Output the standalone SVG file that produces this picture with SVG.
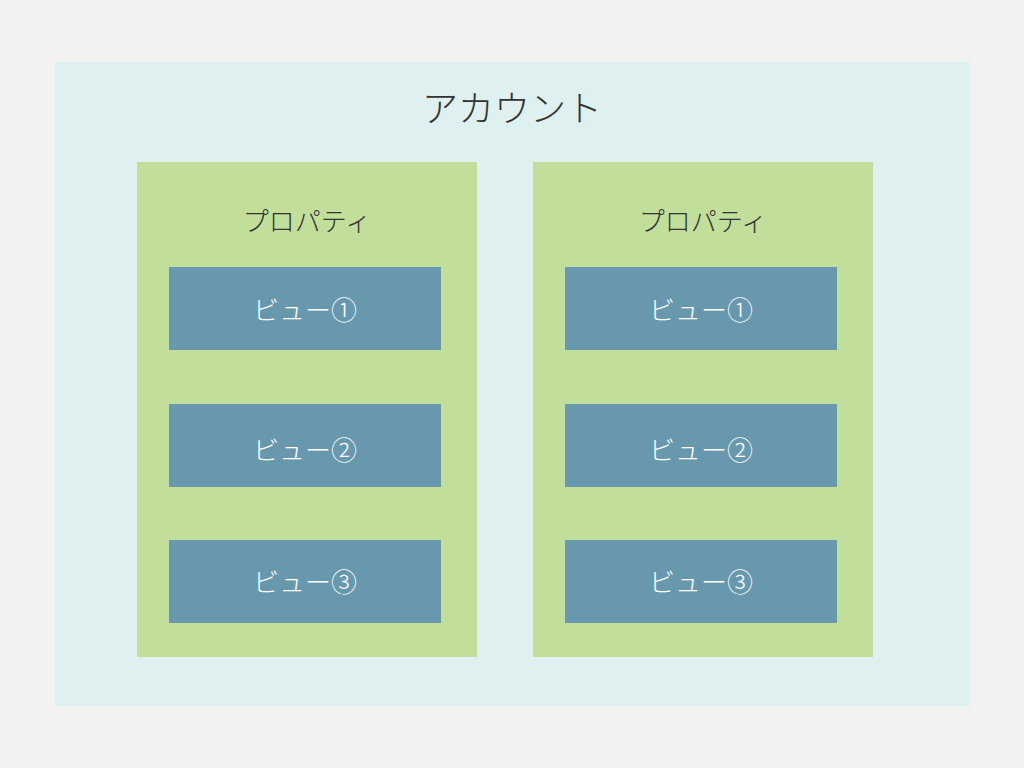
<svg xmlns="http://www.w3.org/2000/svg" width="1024" height="768" viewBox="0 0 1024 768">
<style>
text{font-family:"Noto Sans CJK JP","Noto Sans",sans-serif;text-anchor:middle;dominant-baseline:central;font-weight:300}
.acc{fill:#dff0f0}.prop{fill:#c2de9b}.view{fill:#6898ae}
.t1{font-size:36px;fill:#333}.t2{font-size:26px;fill:#333}.t3{font-size:26px;fill:#fff}
</style>
<rect width="1024" height="768" fill="#f2f2f2"/>
<g id="account"><rect class="acc" x="55" y="62" width="915" height="644"/><text class="t1" x="512" y="106">アカウント</text></g>
<g id="prop1"><rect class="prop" x="137" y="162" width="340" height="495"/><text class="t2" x="307" y="219">プロパティ</text></g>
<g id="prop2"><rect class="prop" x="533" y="162" width="340" height="495"/><text class="t2" x="703" y="219">プロパティ</text></g>
<g id="p1v1"><rect class="view" x="169" y="267" width="272" height="83"/><text class="t3" x="305" y="308">ビュー①</text></g>
<g id="p1v2"><rect class="view" x="169" y="404" width="272" height="83"/><text class="t3" x="305" y="448">ビュー②</text></g>
<g id="p1v3"><rect class="view" x="169" y="540" width="272" height="83"/><text class="t3" x="305" y="580">ビュー③</text></g>
<g id="p2v1"><rect class="view" x="565" y="267" width="272" height="83"/><text class="t3" x="701" y="308">ビュー①</text></g>
<g id="p2v2"><rect class="view" x="565" y="404" width="272" height="83"/><text class="t3" x="701" y="448">ビュー②</text></g>
<g id="p2v3"><rect class="view" x="565" y="540" width="272" height="83"/><text class="t3" x="701" y="580">ビュー③</text></g>
<g id="connectors"/>
</svg>
